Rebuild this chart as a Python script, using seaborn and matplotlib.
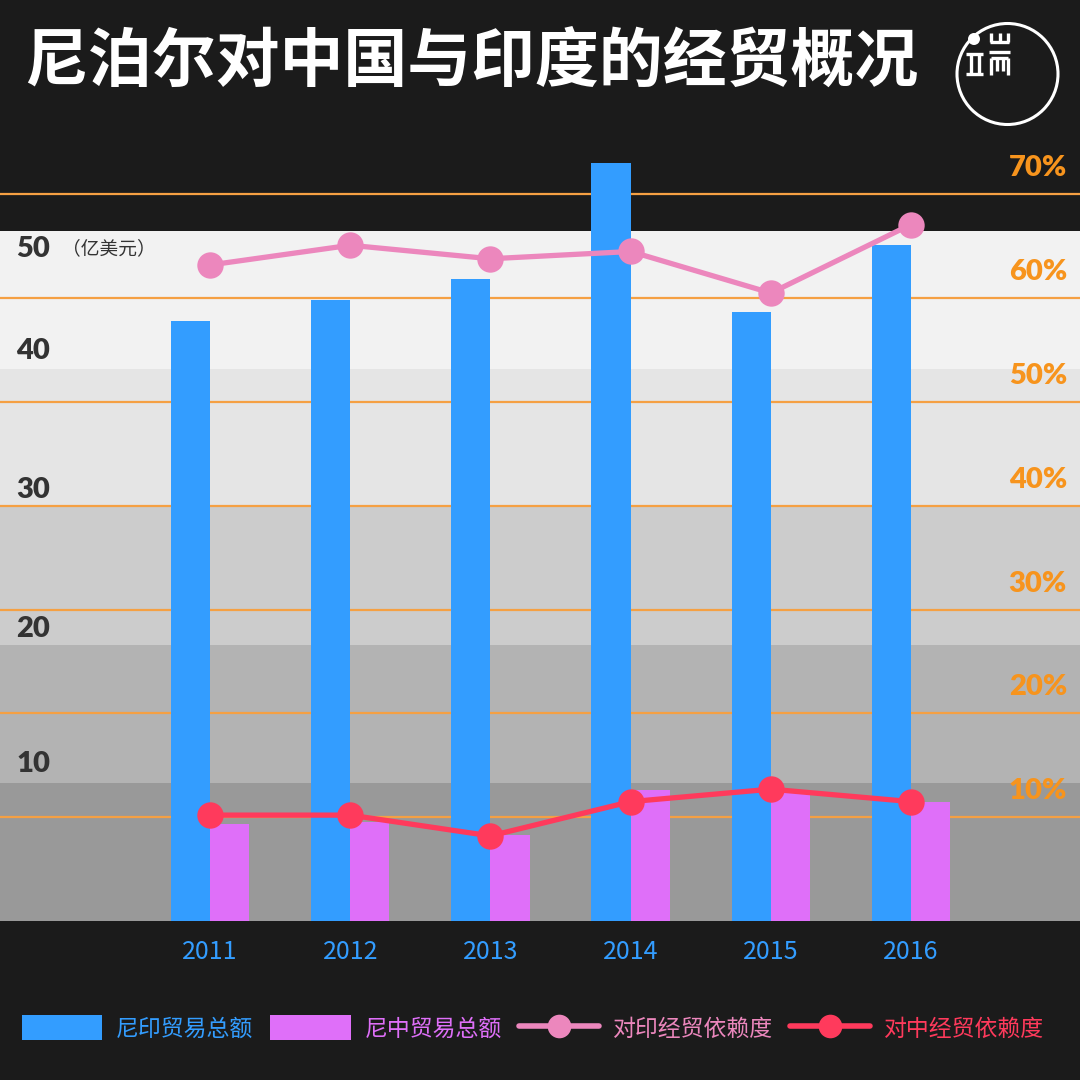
import matplotlib
matplotlib.use("Agg")
import matplotlib.pyplot as plt
import seaborn as sns
import pandas as pd
import numpy as np
from matplotlib.patches import Rectangle, Circle
from matplotlib.lines import Line2D
import matplotlib.transforms as mtransforms

# ---------------- data ----------------
years = ["2011", "2012", "2013", "2014", "2015", "2016"]
trade_india = [43.5, 45.0, 46.5, 54.9, 44.1, 49.0]      # 尼印贸易总额 (亿美元)
trade_china = [7.0, 7.2, 6.2, 9.5, 9.3, 8.6]             # 尼中贸易总额 (亿美元)
dep_india = [63.2, 65.1, 63.8, 64.5, 60.5, 67.1]         # 对印经贸依赖度 (%)
dep_china = [10.2, 10.2, 8.2, 11.5, 12.7, 11.5]          # 对中经贸依赖度 (%)
left_ticks = [10, 20, 30, 40, 50]
right_ticks = [10, 20, 30, 40, 50, 60, 70]
band_edges = [0, 10, 20, 30, 40, 50]
band_colors = ["#999999", "#b3b3b3", "#cccccc", "#e5e5e5", "#f2f2f2"]

title = "尼泊尔对中国与印度的经贸概况"
unit_label = "（亿美元）"
series_names = ["尼印贸易总额", "尼中贸易总额", "对印经贸依赖度", "对中经贸依赖度"]

BG = "#1b1b1b"
BLUE = "#339dff"
PURPLE = "#df6ff9"
PINK = "#ec87bd"
RED = "#ff3a5c"
ORANGE = "#f7941d"
ORANGE_LINE = "#f5a043"

sns.set_theme(style="white")
plt.rcParams["font.family"] = ["Noto Sans CJK SC", "DejaVu Sans"]
NUMFONT = ["Lato", "Noto Sans CJK SC", "DejaVu Sans"]

W = H = 1080
fig = plt.figure(figsize=(10.8, 10.8), dpi=100, facecolor=BG)

def fx(px):
    return px / W

def fy(py):
    return 1 - py / H

ax_bottom_px, ax_top_px = 921, 140
ax = fig.add_axes([0, fy(ax_bottom_px), 1, (ax_bottom_px - ax_top_px) / H])
ax.set_facecolor(BG)

L_TOP = (ax_bottom_px - ax_top_px) / 13.8     # left axis units
R_TOP = (ax_bottom_px - ax_top_px) / 10.38    # right axis percent
X0, X1 = -1.498, 6.205

# background bands
for lo, hi, c in zip(band_edges[:-1], band_edges[1:], band_colors):
    ax.axhspan(lo, hi, color=c, zorder=0.1, lw=0)

# orange grid lines (right-axis values converted to left-axis units)
for p in right_ticks:
    ax.axhline(p * L_TOP / R_TOP, color=ORANGE_LINE, lw=1.6, zorder=0.5)

# bars
df = pd.DataFrame({
    "year": years * 2,
    "value": trade_india + trade_china,
    "series": [series_names[0]] * len(years) + [series_names[1]] * len(years),
})
sns.barplot(data=df, x="year", y="value", hue="series",
            palette={series_names[0]: BLUE, series_names[1]: PURPLE},
            width=0.56, dodge=True, gap=0, saturation=1, linewidth=0,
            legend=False, ax=ax, zorder=1)

ax.set_ylim(0, L_TOP)
ax.set_xlim(X0, X1)
for s in ax.spines.values():
    s.set_visible(False)
ax.set_yticks([])
ax.set_xlabel("")
ax.set_ylabel("")
ax.tick_params(axis="x", length=0, pad=13, labelsize=18, labelcolor=BLUE)
for t in ax.get_xticklabels():
    t.set_fontfamily(["Noto Sans CJK SC", "DejaVu Sans"])

# left tick labels
left_offsets = {10: 19, 20: 16, 30: 17, 40: 18, 50: -18}
for v in left_ticks:
    off = mtransforms.offset_copy(ax.transData, fig=fig, x=0, y=left_offsets[v], units="dots")
    ax.text(X0 + 16 / 140.2, v, f"{v}", transform=off, ha="left", va="center",
            fontsize=21, fontweight="heavy", color="#333333", family=NUMFONT, zorder=5)
    if v == 50:
        ax.text(X0 + 62 / 140.2, v, unit_label, transform=off, ha="left", va="center",
                fontsize=13.5, color="#333333", zorder=5)

# right axis lines
ax2 = ax.twinx()
ax2.set_ylim(0, R_TOP)
x_idx = np.arange(len(years))
sns.lineplot(x=x_idx, y=dep_india, ax=ax2, color=PINK, lw=3.8, marker="o",
             markersize=19, markeredgewidth=0, zorder=3)
sns.lineplot(x=x_idx, y=dep_china, ax=ax2, color=RED, lw=3.8, marker="o",
             markersize=19, markeredgewidth=0, zorder=3)
ax2.set_ylim(0, R_TOP)
ax2.set_xlim(X0, X1)
ax2.set_yticks([])
ax2.set_ylabel("")
for s in ax2.spines.values():
    s.set_visible(False)

# right tick labels
for p in right_ticks:
    off = mtransforms.offset_copy(ax2.transData, fig=fig, x=0, y=26, units="dots")
    ax2.text(X1 - 13 / 140.2, p, f"{p}%", transform=off, ha="right", va="center",
             fontsize=21, fontweight="heavy", color=ORANGE, family=NUMFONT, zorder=5)

# title
fig.text(fx(24), fy(62), title, ha="left", va="center", fontsize=46,
         fontweight="heavy", color="white")

# logo
lw_logo = 2.4
fig.add_artist(Circle((fx(1007.5), fy(74)), 50.5 / W, transform=fig.transFigure,
                      fill=False, ec="white", lw=2.2))
fig.add_artist(Circle((fx(974), fy(39)), 6 / W, transform=fig.transFigure,
                      fc="white", ec="none"))
segs = [
    # left glyph
    ((966, 54), (983, 54)), ((966, 74), (983, 74)),
    ((970.5, 54), (970.5, 74)), ((978.5, 54), (978.5, 74)),
    # top right glyph
    ((990, 42), (1009, 42)), ((991, 33), (991, 42)),
    ((999.5, 33), (999.5, 42)), ((1008, 33), (1008, 42)),
    # bottom right glyph
    ((989, 52), (1010, 52)), ((991, 57.5), (1008, 57.5)),
    ((991, 57.5), (991, 75)), ((1008, 57.5), (1008, 75)),
    ((996.5, 57.5), (996.5, 71)), ((1002.5, 57.5), (1002.5, 71)),
]
for (x0, y0), (x1, y1) in segs:
    fig.add_artist(Line2D([fx(x0), fx(x1)], [fy(y0), fy(y1)], transform=fig.transFigure,
                          color="white", lw=lw_logo, solid_capstyle="butt"))

# legend
handles = [
    Rectangle((0, 0), 1, 1, fc=BLUE, ec="none"),
    Rectangle((0, 0), 1, 1, fc=PURPLE, ec="none"),
    Line2D([0], [0], color=PINK, lw=4, marker="o", markersize=17, markeredgewidth=0),
    Line2D([0], [0], color=RED, lw=4, marker="o", markersize=17, markeredgewidth=0),
]
leg = fig.legend(handles, series_names, loc="center", bbox_to_anchor=(fx(533), fy(1028)),
                 ncol=4, frameon=False, fontsize=16.5, handlelength=3.5, handleheight=1.3,
                 handletextpad=0.6, columnspacing=0.75, borderpad=0)
for t, c in zip(leg.get_texts(), [BLUE, PURPLE, PINK, RED]):
    t.set_color(c)

fig.savefig("out.png", dpi=100, facecolor=BG)
